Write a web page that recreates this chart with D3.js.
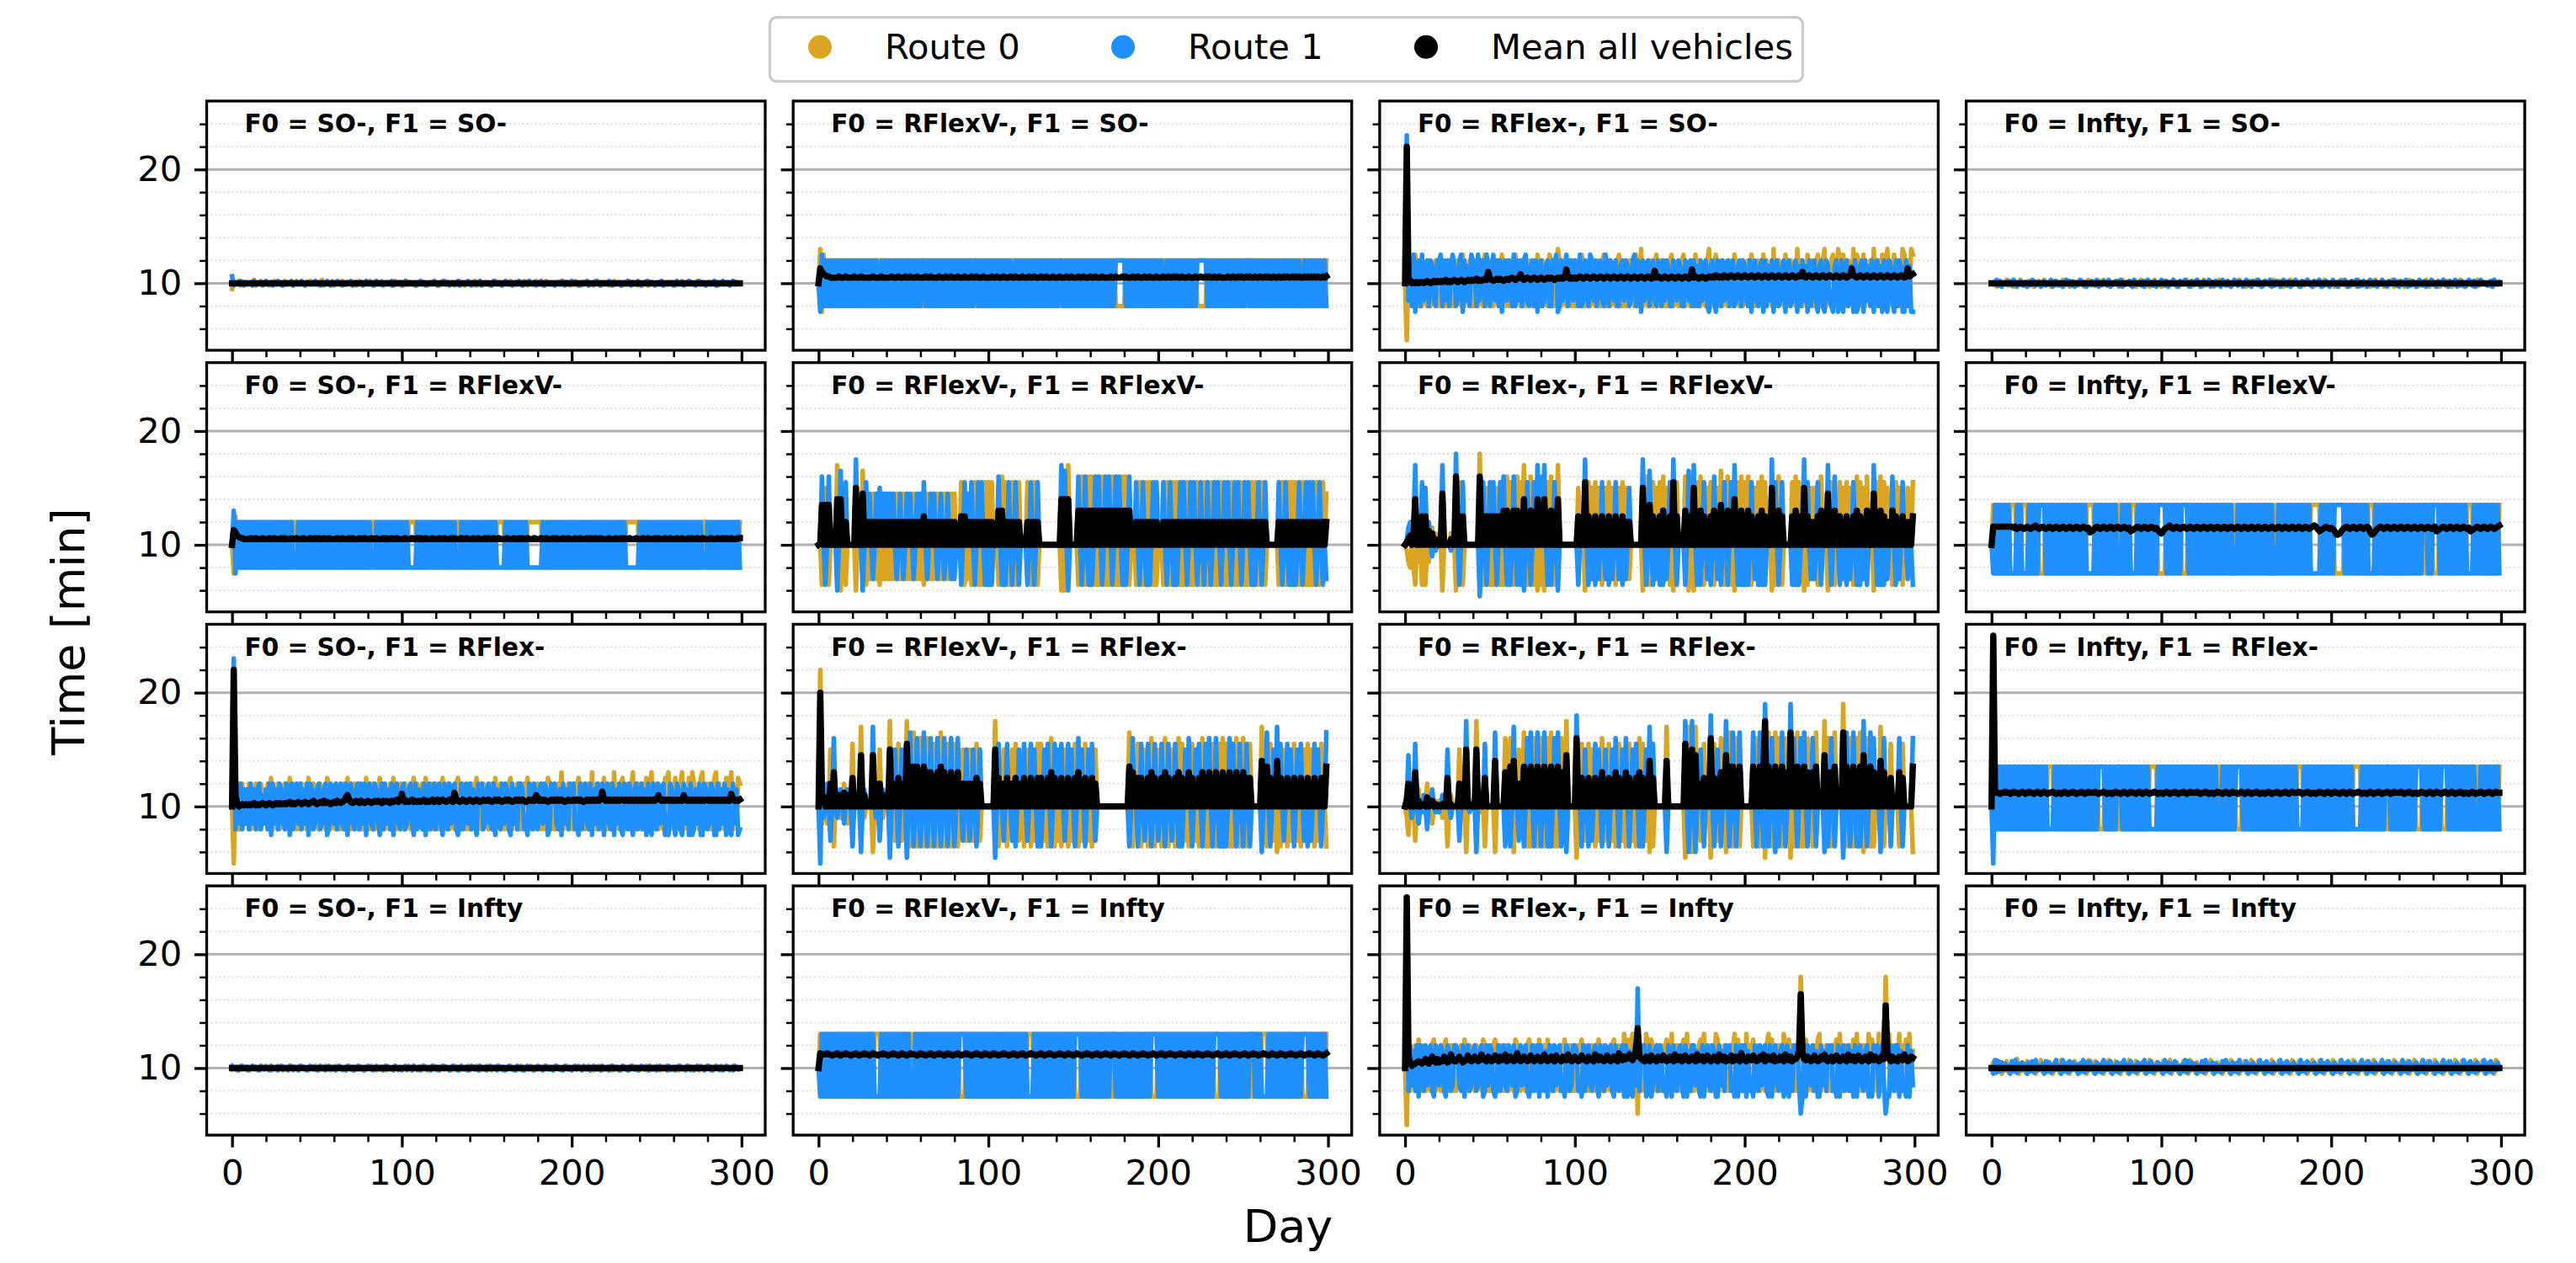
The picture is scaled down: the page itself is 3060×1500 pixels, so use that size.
<!DOCTYPE html>
<html>
<head>
<meta charset="utf-8">
<script src="https://cdn.jsdelivr.net/npm/d3@7"></script>
<style>
  body { margin: 0; background: #fff; }
  svg { font-family: "DejaVu Sans", sans-serif; }
</style>
</head>
<body>
<svg id="chart" width="3060" height="1500"></svg>
<script>
// facet labels
const F0 = ["SO-", "RFlexV-", "RFlex-", "Infty"];
const F1 = ["SO-", "RFlexV-", "RFlex-", "Infty"];
const legendLabels = ["Route 0", "Route 1", "Mean all vehicles"];
const yMajor = [10, 20];
const yMinor = [6, 8, 12, 14, 16, 18, 22, 24];
const xMajor = [0, 100, 200, 300];
const xMinor = [20, 40, 60, 80, 120, 140, 160, 180, 220, 240, 260, 280];

// daily values, one char per day (spaces ignored):
// a..z = 5.0..17.5 (step 0.5), A..Z = 9.5..12.0 (step 0.1), 0..9 = 18..27
// naming: r0_/r1_/mn_ + row (F1) + column (F0)
const flatMean = "FFFFFFFFFF FFFFFFFFFF FFFFFFFFFF FFFFFFFFFF FFFFFFFFFF FFFFFFFFFF FFFFFFFFFF FFFFFFFFFF FFFFFFFFFF FFFFFFFFFF FFFFFFFFFF FFFFFFFFFF FFFFFFFFFF FFFFFFFFFF FFFFFFFFFF FFFFFFFFFF FFFFFFFFFF FFFFFFFFFF FFFFFFFFFF FFFFFFFFFF FFFFFFFFFF FFFFFFFFFF FFFFFFFFFF FFFFFFFFFF FFFFFFFFFF FFFFFFFFFF FFFFFFFFFF FFFFFFFFFF FFFFFFFFFF FFFFFFFFFF";

const r0_00 = "AGEFHDFGEF FEGIDFEHFG EFDGFHEFGD FHEFGEDFHF GEFDFGHEFE FGEIDFGFEH DFGEFHFEGF EFGDFHEGFF GHEFDFEGHF EFGFDEHFGE FDGHEFEGFD FHGEFDFGEF GEDFHFEGFE FDGFHEFDGF EGFHDFEGFG FEDGFHEFGD FGEFHDFEGF EFHGDFEFGH FEGDFHFEGF DFGEFHEGFD FGHEFDGEFF EGFDHFEGFE FGDEFHGFEF DFGEHFEGFD GFEFHDFGEF EFGHDFEFGE FDGFEHFGEF GEFDHFGEFD FGEFHEDFGF EGFDFHEGFF";
const r1_00 = "LDGFEHFDGE FGDHEFGFDF HEFGDFEHGF DFGEFHDFGE FHEDGFEFGH EFDGFEHFDG FEHFGDFEGF HDFGEFGDFH EFGDFHFEGD FGEFHDGEFG DFHEFGFEDG FHEGDFEFGH EDFGFHEGDF GFEHDFGEFH FDGEFGHDFE GFEDHFGEFD FHGEFDFGEH FDEGFHFEGD FGHEDFGFEF DGFEHFDGEF HEFGDFEGFH DFEGFHEDFG EFHGDFEFGD FGEHFDGEFH EDFGFHEGFD FGEHDFGEFG DFHEFGDEFH GEFDFHEGFD FGEFHDGEFH EFGDFHEGFF";

const r0_01 = "kqfpgogogo gogogogogo gogogogogo gogogoogog ogogogogog ogogogogog oggogogogo gogogogogo gogogogogo goggogogog ogogogogog ogogoogogo gogogogogo gogogogogo goggogogog ogogogogog ogogogogog ogogoggggg gogogogogo gogogogogo gogoogogog ogogogogog ogoggggggo gogogogogo gogogogogo goggogogog ogogogogog ogogogogog ogogoogogo gogogogogo";
const r1_01 = "kfpgogogog ogogogogog ogogogogog ogogoggogo gogogogogo gogogogogo googogogog ogogogogog ogogogogog ogoogogogo gogogogogo gogoggogog ogogogogog ogogogogog ogoogogogo gogogogogo gogogogogo gogogooooo ogogogogog ogogogogog ogoggogogo gogogogogo gogoooooog ogogogogog ogogogogog ogoogogogo gogogogogo gogogogogo gogoggogog ogogogogog";
const mn_01 = "FSPNMLLKKK KKLKKKLKKK KLKKKLKKKK KKLKKKKLKK KKKLKKKLKK KLKKLKKKLK KKKLKKLKKK KLKKKLKKLK KKLKKKLKKK LKKLKKKLKK KKLKKLKKKL KKKLKKLKKK LKKKLKKLKK KLKKLKKKLK KKLKKKLKKL KKKLKKLKKK LKKLKKKLKK KKLKKLKKKL KLKKKLKKLK KKLKKLKKKL KKKLKKLKKL KLKKLKKKLK KKLKKLKKLK LKKLKKLKKK KLKKLKKLKL KKLKLKKLKK LKKLKLKKLK KLKKLKLKKL KLKLKKLKLK LKLKLKKLKL";

const r0_02 = "kanhogphgo gnhgoghnog hgogngohgh onhgpgnhog ghognhgpgh ohgnhogphg nghogphngo hgnohgogph gonhgpoghg qognhgohgn ghogpnghog hngohgnpgh oghngophgn ghonhgpghq gnhgohgnpg hognghopgh nghopghngo gphognhgoq hgnpghognh gohgpnhgog hnogphgnoh gpgohngqhg onhgphgonh gqhognhpgo hgnphgoqgh nophgqogph gonhqgpohg pgnhogqhgo hpgoqghnpg oghqpgohqp";
const r1_02 = "k5hogpfnog phnogonhgo opgohognpn ghopfohngp ongphoogpn gnphogofno hongpgohog ophgnogofn oghnoggonp fgohnpgooh ongpghongp ohognohgpn gonhoggnoh onghopgonf ohnognohgo ngohonggon honggonhog ogngohnogf nohfongohn ognoghnogo nhgofnohgn ofognhofno ghnofnoghn ofngohnfog nohfnogfon hgfnofgofn oghnfofgno fohngofnog nfogfonhfo gonffognff";
const mn_02 = "F4KGFGFGFG GFGHGFGHGH GHGHIGHGHI HGHIHGHIHI HIJHIHIJIP JIHIJIJIHI JIJKJIJKNJ IJKJIJKJIJ KJIJKJKJIJ KJKJKRKJKJ KJKLKJKLKJ KLKJKLKJKL KJKLKJKLKJ KLKJKLKJKL KJKLKJKQKL KJKLKJKLKJ KLKJKLKJKR KLKJKLKJKL KLKMLKLKML KLMLKLMLKL MLKLMLKLML KLMLKLMLKL MLKLMLKLML KLMLPLKLML KLMLKLMLKL MLKLMLKLML KLMSMLKLML KLMLKLMLKL MLKLMLKLML KLMLKLSLMN";

const r0_03 = "FGECHDGFEI DFHCGEFIDF GEHDFCGEHF DIFEGCFHDG EFIDGECFHE GDFHECGIFD EGFCHDIEFG DFEHGCFIDE FGDHECFGID HEFCGDIFEG CFHEDGFIEC GDFHEICGFD HEFGCIDFEH GCFDIEHFGD ECFGHDIEFG CDHFEGIDFC EHGFDCIEGF HDCFGEIDHF ECGFDHIEFC GDHEFCIGDF EHCGFDIEHC FGDEHCIFGD EFHCGDIEFG HCDFEGICFH DEGCFHIDEF GCHDFEIGCF HDEGCFIDHE FCGEHDIFCG DEHFCGIDEF GFEDHCIFEG";
const r1_03 = "FEGIDHCFGE HFDIGCEHFD GCFEIHDGFC EHDFGICEHF DGCFIEHDGC FEIHDGCFEH GDICFEHGDI CFEGHDICFE GHDCIFEGDH CFIEGDHCFE IGDHCFEIGD CHFEIGDCHF EIGCDHFEIC GDHFECIGDH FCEIGDHFCE IGDCHFEIGC DHFEICGDHF CEIGDHCFEI GDCHFEIGDC HFEICGDHFC EIGDCHFEIG CDHFEICGDH FCEIGDHCFE IGDCHFEIGD CHFEICGDHF CEIGDHCFEI GDCHFEIGDC HFEICGDHFC EIGDHCFEIG FEDGHCIFEG";

const r0_10 = "kfpgogogog ogogogogog ogogogogog ogogogooog ogogogogog ogogogogog ogogogogog ogogogogog ogooogogog ogogogogog ogogooooog ogogogogog ogogogogog ogooogogog ogogogogog ogogogoooo ogogogogog ogogoooooo ooogogogog ogogogogog ogogogogog ogogogogog ogogogogog ogoooooooo gogogogogo gogogogogo gogogogogo gogogogooo gogogogogo gogogogogo";
const r1_10 = "kqfogogogo gogogogogo gogogogogo gogogogggo gogogogogo gogogogogo gogogogogo gogogogogo gogggogogo gogogogogo gogogggggo gogogogogo gogogogogo gogggogogo gogogogogo gogogogggg gogogogogo gogogggggg gggogogogo gogogogogo gogogogogo gogogogogo gogogogogo gogggggggg ogogogogog ogogogogog ogogogogog ogogogoggg ogogogogog ogogogogog";
const mn_10 = "FSQNMLLKKK KLKKLKKKLK KKLKKLKKKL KLKKKLKKLK KKLKKKLKKL KLKKLKKLKK KKLKKLKKKL KLKKKLKKLK KKLKKLKKKL KLKKLKKLKK KKLKKKLKKL KLKKLKKKLK KKLKKLKKKL KLKKKLKKLK KKLKKLKKKL KLKKLKKLKK KKLKKKLKKL KLKKLKKKLK KKLKKLKKKL KLKKKLKKLK KKLKKLKKKL KLKKLKKLKK KKLKKKLKKL KLKKLKKKLK KKLKKLKKKL KLKKKLKKLK KKLKKLKKKL KLKKLKKLKK KKLKKKLKKL KLKKLKKKLL";

const r0_11 = "kkdkukdkkk kykckkdkkk kkckkkxkdk ektkekdkek ekekektkek tkekektkek ekdktkekek tkektkektk tkkkvkdkek dkvkdkdkvk vkvkkkdkwk vkdkvkdkvk kkkvkdkvkd kkkkkkkkkk kkkckckykk kkkdkwkdkw kwkdkdkwkd kdkwkdkdkw kwkdkkkdkv kdkvkvkdkd kkkdkvkdkv kvkdkdkvkd kdkvkdkvkd kvkdkdkvkd kdkvkdkdkv kdkdkvkvkd kvkdkkkkkk kdkvkdkvkv kvkdkvkdkd kdkvkdkvkt";
const r1_11 = "kkwkdkwkkk kckxkkvkkk kkzkkkckvk tkektkuktk tktktkektk ektktkektk tkvkektktk ektkektkek ekkkdkvktk vkdkvkvkdk dkdkkkwkdk dkvkdkvkdk kkkdkvkdkv kkkkkkkkkk kkkykxkckk kkkwkdkwkd kdkwkwkdkw kwkdkwkwkd kdkwkkkvkd kvkdkdkvkv kkkvkdkvkd kdkvkvkdkv kvkdkvkdkv kdkvkvkdkv kvkdkvkvkd kvkvkdkdkv kdkvkkkkkk kvkdkvkdkd kdkvkdkvkv kvkdkvkdke";
const mn_11 = "FGrFrFrFFF FsFsFFoFFF FFuFFFtFoF oFoFoFoFoF oFoFoFoFoF oFoFoFoFoF oFpFoFoFoF oFoFoFoFoF oFFFpFpFoF oFoFoFoFoF oFoFFFqFqF oFoFoFoFoF FFFoFoFoFo FFFFFFFFFF FFFsFsFsFF FFFqFqFqFq FqFqFqFqFq FqFqFqFqFq FqFqFFFoFo FoFoFoFoFo FFFoFoFoFo FoFoFoFoFo FoFoFoFoFo FoFoFoFoFo FoFoFoFoFo FoFoFoFoFo FoFoFFFFFF FoFoFoFoFo FoFoFoFoFo FoFoFoFoFo";

const r0_12 = "kjhgkgdkhk dkdkhknkmk kkckkkkmkk ckvkdkkkkk kkkk0kdkuk dkdkukdkdk wkvkdkwkvk ykdkwkdkck dkckvkwkdk ykkkkkkkkk kkukkkckvk ukvkukdkuk vkukdkukvk ukekkkkkkk ckwkdkvkuk vkwkukdkck vkkkkwkckk ckvkwkdkuk vkdkukxkdk wkdkckvkwk vkwkdkukvk wkvkkkckdk wkdkkkkkvk wkvkkckdku kukdkwkkkc kvkdkkvkuk vkukdkwkvk ukwkkkckvk wkvkukkdkv kukdkkukkv";
const r1_12 = "klnokoyknk vkukokikjk kkykkkkjkk 0kdkvkkkkk kkkkbkvkdk vkvkdkvkwk dkdkwkdkdk ckvkdkvkyk wkykdkdkvk ckkkkkkkkk kkdkkkzkdk ekdkekvkek dkekvkekdk ekukkkkkkk zkdkxkdkek dkdkekvkzk dkkkkdkxkk ykdkdkvkek dkwkekdkvk dkvkykdkdk dkdkvkekdk dkdkkkzkvk dkvkkkkkdk dkdkkzkvke kekvkdkkky kdkwkkdkek dkekvkdkdk ekdkkkykdk dkdkekkwkd kekvkkekkd";
const mn_12 = "FHKNFNsFPF pFpFRFPFKF FFtFFFFKFF wFpFpFFFFF FFFFwFpFpF pFpFpFpFqF qFpFqFqFpF sFpFqFpFsF qFsFpFqFpF sFFFFFFFFF FFpFFFvFpF oFpFoFpFoF pFoFpFoFpF oFoFFFFFFF uFqFrFpFoF pFqFoFpFvF pFFFFqFpFF uFpFqFpFoF pFqFoFrFpF qFpFsFpFqF pFqFpFoFpF qFpFFFuFpF qFpFFFFFpF qFpFFuFpFo FoFpFqFFFt FpFqFFpFoF pFoFpFqFpF oFqFFFtFpF qFpFoFFqFp FoFpFFoFFp";

const r0_13 = "krfrfrfrfr frrrrfrfrr rrfrfrfrff ffrfrfrfrf rfrfrfrfrf rfrfrfrrrr rfrfrfrfrf rfrfrfrfrf rfrrrrfrfr frfrfrfrff fffrfrfrfr frffffrfrf rfrfrfrfrf rfrfrfrfrf rfrfrfrfrf rfrfrfrfrf rfrfrfrfrf rfrfrfrfrf rfrfrfrfrr rrrrfrfrfr frffffffrf rfrfrfrfrf rfrrrrfrfr frfrfrfrfr frfrfrfrfr frfrfrfrfr ffffrfrfrf rfrfrfrfrf rrrrfrfrfr frfrfrfrfr";
const r1_13 = "kfrfrfrfrf rffffrfrff ffrfrfrfrr rrfrfrfrfr frfrfrfrfr frfrfrffff frfrfrfrfr frfrfffrfr frffffrfrf rfrfrfrfrr rrrfrfrfrf rfrrrrfrfr frfrfrfrfr frfrfrfrfr frfffrfrfr frfrfrfrfr frfrfrfffr frfrfrfrfr frfrfrfrff ffffrfrfrf rfrrrrrrfr frfrfrfrfr frffffrfrf rfrfrfrfrf rfrfrfrfrf rfrfrrrfrf rrrrfrfrfr frfrfrfrfr ffffrfrfrf rfrfrfrfrf";
const mn_13 = "FVVVVVVVVV VVVUVTUVUT UVUTUVWUTU VUTUVUTUVU TUVUTUVUTU VUTUVUTUQR SUVUTUVUTU VUTUVUTUVU TURSTUVUTU VUTUVUTUSQ PRTUVWUTUV UTUVUTUVUT UVUTUVUTUV UTUVUTUVUT UVUTUVUTUV UTUVUTUVUT UVUTUVUTUV UTUVUTUVUT UVUTUVUTUV WVTRSTUVUT UTROOPRTUV UTUVUTUVUT UVUQOPRTUV UTUVUTUVUT UVUTUVUTUV UTUVUTUVUT UVRSTUVUTU VUTUVUTUVU TURSTUVUTU VUTUVUTUVW";

const r0_20 = "kaogngohnh ognhohgoin hogpgnhogh noghpgohgn gohngpghon hgonhgpogh ngohgnogph gnohgogngp hgnoghnpgo gnhogphgno hgonhgnpgo hnogphgong ohgnpghogn hgopngohgn gohnpghgon hgnogphnog nghopgnhog ghonpghogn ohgnghpogh gnohqgnhog hgonpgohgn ogqhngohgp hgnogqhngo pghognqhgo ngohpgnqgh ognhgpoqgh npghoqgnhp gqohngpqgh onghpqgohn gphoqgnhpo";
const r1_20 = "k5gohognhn gohngnogmh ngofohngon hgonfognoh ognhofongh noghnofgon hognohgofn ohgnogohof nohgonhfog ohngofnohg noghnohfog nhgofnogho gnohfongoh nogfhognoh ognhfonogh nohgofnhgo hongfohngo onghfongoh gnohonfgon ohgnfohngo noghfognoh gofnhognof nohgofnhog fongohfnog hognfohfon gohnofgfon hfongfohnf ofgnhoffon ghonffognh ofngfohnfg";
const mn_20 = "F4QHFGHGHG HGHIGHGHIH GHIHGHIHIH HIHIJHIHIJ IHIJIHIJKI HIJIKIJIHI JIKJIJKNPL JIJKJIKJIJ KJIJKJKJIK JKJIKJKLJK QLJKJKLJKJ KJKLJKJKLJ KLJKLKJKLK JRLKJKLKJK LKJKLKJKLK KLKJKLKLKJ KLKLKJKLKL KLKJKLKLKP NKLKLKJKLK LKLKLKJKLK KLKLKLKJKL KLKLKLKLSL KLKLKLKLKL LKLKLKLKLK LKLKLKLKLK LPLKLKLKLK LKLKLKPLKL KLKLKLKLKL LKLKLKLKLK LKLKQLKLKL";

const r0_21 = "k4hnkhkukd knkikokhkk vkkkkykikk kkcknkukik kkzkkekvke kkzkdkxkdk wkdkwkdkvk dkxkdkvkdk vkdkkukeku kekvkekkkk kkkkzkdkku kdkkukvkek kdkukdkekv kvkekdkwkd kekdkukdke kvkdkekvke kdkukkkkkk kkkkkkkkkk kkkxkdkkvk dkukdkwkdk ukdkwkdkuk dkwkvkekdk vkekdkwkdk dkvkdkvkwk vkdkdkwkdk wkdkvkkkkk kykkdkvkek ckdkukdkek vkekdkukvk ukdkekvkkd";
const r1_21 = "kaqikokekw kiknkhknkk dkkkkcknkk kkykikeknk kkbkkukdku kkbkxkdkwk dkxkdkwkdk wkdkwkdkwk dkwkkekuke kukdkukkkk kkkkbkvkke kvkkekdkuk kvkekvkukd kdkukvkdkv kukvkekvku kdkwkukdku kvkekkkkkk kkkkkkkkkk kkkdkwkkdk vkekvkdkvk ekvkdkvkek vkdkdkukwk dkukvkdkvk wkdkwkdkdk dkwkvkdkvk dkvkdkkkkk kckkxkdkuk ykvkekvkuk dkukvkekdk ekvkukdkkx";
const mn_21 = "F2QNFNFoFq FPFPFRFPFF pFFFFtFPFF FFtFPFoFPF FFuFFoFpFo FFvFrFrFrF qFrFqFqFpF qFrFqFpFqF pFqFFoFoFo FoFpFoFFFF FFFFuFpFFo FpFFoFpFoF FpFoFpFoFp FpFoFpFqFp FoFpFoFpFo FpFqFoFpFo FpFoFFFFFF FFFFFFFFFF FFFrFqFFpF pFoFpFqFpF oFpFqFpFoF pFqFpFoFqF pFoFpFqFpF qFpFqFpFqF pFqFpFqFpF qFpFpFFFFF FsFFrFpFoF sFpFoFpFoF pFoFpFoFpF oFpFoFpFFr";

const r0_22 = "kifkmkeknk ljkokjhklk lkikkdkmkk kkukkkcklk kkzkjkkdkk kkkckkkkkw kkwkckkukk xkdkdkwkdk wkdkwkxkdk dkwkkzkkkk kbkkvkekvk ukdkekwkek vkekdkvkek dkvkekdkwk vkekckdkkk kkkkykkkkk kkkkkbkykc kykkekvkkk bkvkekwkkc kxkdkwkdkk kkkkkdkwkd kxbkxkdkxk wkdkwkkbkd kxkdkdkwkk dkxkkkkzkw kdkxkkkk1k dkwkdkwkxk ckwkdkdkkk ykdkkkvkkk kdkvkkkkkc";
const r1_22 = "kmtkikvkhk jmkgklnkjk jkmkkukikk kkekkkzkjk kkcklkkvkk kkkxkkkkkd kkdkykkekk dkwkxkdkxk dkxkdkdkwk xkdkkckkkk k0kkdkukdk ekvkukdkuk dkukwkdkuk wkdkukvkdk dkukykvkkk kkkkckkkkk kkkkkzkckz kckkukdkkk 0kdkukdkkz kdkxkdkxkk kkkkkxkdkx kd1kdkwkck dkxkdkk1kw kdkwkxkdkk wkdkkkkckd kwkdkkkkbk xkdkxkdkdk zkdkxkwkkk ckwkkkdkkk kwkdkkkkkw";
const mn_22 = "FLZFKFqFKF GHFNFGKFHF GFHFFpFHFF FFoFFFuFHF FFuFHFFpFF FFFsFFFFFq FFrFsFFoFF rFqFrFqFrF qFrFqFrFqF rFqFFtFFFF FwFFpFoFpF oFpFoFqFoF pFoFqFpFoF qFpFoFpFqF pFoFsFpFFF FFFFsFFFFF FFFFFvFtFu FtFFoFpFFF wFpFoFqFFt FrFrFqFrFF FFFFFrFqFr FrzFrFqFrF qFrFqFFxFq FrFqFrFqFF qFrFFFFtFq FqFrFFFFxF rFqFrFqFrF tFqFrFqFFF sFqFFFpFFF FqFpFFFFFr";

const r0_23 = "k7grgrgrgr grgrgrgrgr grgrgrgrgr grgrrrrgrg rgrgrgrgrg rgrgrgrgrg rgrggggrgr grgrgrgrgr grgrgrgrgr grgrrrrrgr grgrgrgrgr grgrgrgrgr grgrgrgrgr grgrgrgrgr grgrggggrg rgrgrgrgrg rgrgrgrgrg rgrgrgrgrg rrrrgrgrgr grgrgrgrgr grgrgrgrgr grgrrrrrgr grgrgrgrgr grgrgrgrgr grgrgrgrgr ggggrgrgrg rgrgrggggr grgrgrgrgr grgrgrgrgr grgrgrgrgr";
const r1_23 = "kargrgrgrg rgrgrgrgrg rgrgrgrgrg rgrggggrgr grgrgrgrgr grgrgrgrgr grgrrrrgrg rgrgrrrgrg rgrgrgrgrg rgrgggggrg rgrgrgrgrg rgrgrgrgrg rgrgrgrgrg rgrgggrgrg rgrgrrrrgr grgrgrgrgr grgrgrgrgr grgrgrgrgr ggggrgrgrg rgrgrgrgrg rgrgrgrgrg rgrgggggrg rgrgrgrgrg rgrrrgrgrg rgrgrgrgrg rrrrgrgrgr grgrgrrrrg rgrgrgrgrg rgrgrgggrg rgrgrgrgrg";
const mn_23 = "F7TRRQRRSR RQRSRRQRSR QRSRRQRSRQ RSRQRRSRQR RQRSRQRRSR QRRSRQRSRR RSRQRRSRQR RQRSRRQRSR QRSRRQRSRQ RSRQRRSRQR RQRSRQRRSR QRRSRQRSRR RSRQRRSRQR RQRSRRQRSR QRSRRQRSRQ RSRQRRSRQR RQRSRQRRSR QRRSRQRSRR RSRQRRSRQR RQRSRRQRSR QRSRRQRSRQ RSRQRRSRQR RQRSRQRRSR QRRSRQRSRR RSRQRRSRQR RQRSRRQRSR QRSRRQRSRQ RSRQRRSRQR RQRSRQRRSR QRRSRQRSRR";

const r0_30 = "EFGDFHEFGD FEHGFDFEGF HEFDGFEHFG DFEGFHDFEG FHGEFDFGEH FDGEFHFEDG FHEGFDFEGH FDGFEHFDGE FGHFEDFGEF HDGFEFHGDF EGFDHFEGFD GFHEFDGFEH FDGEFHGEFD FHEGDFEFGH DFGEHFDGEF HFEDGFHEFG DFEGHFDEGF HDFGEFHDGF EFGDHFEGFD HGFEDFGHEF DGFEHFDGEF HGFDEFHGDF EFGHDFEGFD HFEGDFHEFG DFGEHFDEGF HFDGEFHGDF EGFDHFEGFH DFGEFDHFGE FHDGEFGDHF EGFDFHEGFF";
const r1_30 = "HFEGDFHEFG DFHEGFDHFE GFDHEFGDFH EGFDHFEGFD HFGEDFHGEF DFHGEDFHFE GDFHGEFDHF EGDFHEGFDF HGEDFHFEGD FHGEFDHFEG DFHEGFDHFE GDFHGEFDHF EGDFHEGFDF HGEDFHFEGD FHGEFDHFEG DFHEGFDHFE GDFHGEFDHF EGDFHEGFDF HGEDFHFEGD FHGEFDHFEG DFHEGFDHFE GDFHGEFDHF EGDFHEGFDF HGEDFHFEGD FHGEFDHFEG DFHEGFDHFE GDFHGEFDHF EGDFHEGFDF HGEDFHFEGD FHGEFDHFEF";

const r0_31 = "kqfqfqfqfq fqfqfqfqfq fqfqfqfqfq fqfqqqqfqf qfqfqfqfqf qfqfqfqfqf qfqfqfqfqf qfqfqfqfqf qfqffffqfq fqfqfqfqfq fqfqfqfqfq fqfqfqfqfq fqfqqqqfqf qfqfqfqfqf qfqfqfqfqf qffffqfqfq fqfqfqfqfq fqfqfqfqfq fqfqfqfqfq fqfqfqffff qfqfqfqfqf qfqfqfqfqf qfqfqfqfqf qfqffffqfq fqfqfqfqfq fqfqfqfqfq fqqqqfqfqf qfqfqfqfqf qfqfqffffq fqfqfqfqfq";
const r1_31 = "kfqfqfqfqf qfqfqfqfqf qfqfqfqfqf qfqffffqfq fqfqfqfqfq fqfqfffqfq fqfqfqfqfq fqfqfqfqfq fqfqqqqfqf qfqfqfqfqf qfqfqfqfqf qfqfqfqfqf qfqffffqfq fqfqfqfqfq fqfqfqfqfq fqqqqfqfqf qfqfqfqfqf qfqqqfqfqf qfqfqfqfqf qfqfqfqqqq fqfqfqfqfq fqfqfqfqfq fqfqfqfqfq fqfqqqqfqf qfqfqfqfqf qfqfqqqfqf qffffqfqfq fqfqfqfqfq fqfqfqqqqf qfqfqfqfqf";
const mn_31 = "FSRRRSRRQR RSRQRRSRRQ RRSRQRRSRR QRSRRQRRSR RQRRSRRQRS RRQRSRRRQR SRRQRRSRQR RSRRQRSRRQ RRSRQRRSRR QRRSRRQRSR RQRSRRQRRS RRQRRSRQRR SRQRRSRRQR RSRQRRSRRQ RRSRRQRSRR QRSRRQRRSR RQRRSRQRRS RRQRSRRQRR SRRQRSRRQR RSRRQRRSRQ RRSRQRRSRR QRRSRRQRSR RQRSRRQRRS RRQRRSRQRR SRQRRSRRQR RSRQRRSRRQ RRSRRQRSRR QRSRRQRRSR RQRRSRQRRS RRQRSRRQRS";

const r0_32 = "kaognhogpg hognhgopgh nghopghong ghnogphgon hgonhgpogn ghopngohgn oghngpohgn hgopngohgp gnohpghogn hgonpghong ghonpgohgn ohgnpghogn hgopgnohgq gphoqgncog hgqogpnhgo ghonpghqgn ohgnpgqhog gnhopgqhgn oghqpgnhog hgonqgphgo gqhonpghog nhgoqgphgn ohgqngphog hgn0qgpghn gohpqgnhog hgonpgqhgo ngohpgqhgn ohgqnpghgq hgn0pqghog gqhonpgqhn";
const r1_32 = "k7gohngofo ngohnogfon hongfongho onhgofnogh noghnofgoh ongfhognoh gonhofgnoh nogfhognof ohgnfongoh noghfongho onghfognoh gnohfongoh nogfohgnof ofngfohygo nofgofhnog onghfonfoh gnohfofngo ohngfofnoh gonffohngo noghfofnog ofnghfongo hnogfofnoh gnofhofngo nohcfofonh ognffohngo noghfofnog hognfofnoh gnofhfonof nohcffongo ofnghfofnh";
const mn_32 = "F7QKHIJKLK JLNKJMPLKN KMLPNKLRNL LNPMKLNQML MPNLMRNMLP NLMQNLPMNR LMPNLMSNLM PNLMQNLNPM LNRMLNPMLQ NMLPNMRNLM PNLMQNMLPN MLRNMPNLMQ NLMPNLSNMP NPRNMPVrPN MLPNLQNMLP NMQNLMPNLR MNPLMQNLMP NLRMNPLMQN LMPNLRNMPL NMQLMPNLSN MLPNMQNLMP NRLMPNMQLN MPNLRNMPLN NPVxTNMPNL MQNLMPNRML NPLMQNLMPN LRNMPLNQML NPMLRNMPNL MQNvUNLPMN LPNMRNLMPO";

const r0_33 = "FKBMCJAHDL BIEKCNAGDJ BLCIEKAHDM CJBLDIAKEH BMCJDKAIEL CHBKDJAMEI BLCHDKAJEM BICLDHAKEJ BMCIDLAHEK BJCMDIAKEH BLCJDMAIEK BHCLDJAMEI BKCHDLAJEM BICKDHALEJ BMCIDKAHEL BJCMDIALEH BKCJDMAIEL BHCKDJAMEI BLCHDKAJEM BICLDHAKEJ BMCIDLAHEK BJCMDIAKEH BLCJDMAIEK BHCLDJAMEI BKCHDLAJEM BICKDHALEJ BMCIDKAHEL BJCMDIALEH BKCJDMAIEL BHCKDJAMEF";
const r1_33 = "FAMBLCKDJE HALCMBJDKE IAKCLBMDHE JALCKBIDME HAMCJBLDKE IAJCMBKDLE HAKCIBMDJE LAHCKBJDME IALCHBKDJE MAJCLBHDKE IAMCKBJDLE HAICMBLDKE JAHCLBMDIE KAJCHBLDME IAKCJBMDHE LAICKBHDME JALCIBKDHE MAJCLBIDKE HAMCJBLDIE KAHCMBJDLE IAKCHBMDJE LAICKBHDME JALCIBKDHE MAJCLBIDKE HAMCJBLDIE KAHCMBJDLE IAKCHBMDJE LAICKBHDME JALCIBKDHE MAJCLBIDKF";

const route0 = [[r0_00, r0_01, r0_02, r0_03], [r0_10, r0_11, r0_12, r0_13], [r0_20, r0_21, r0_22, r0_23], [r0_30, r0_31, r0_32, r0_33]];
const route1 = [[r1_00, r1_01, r1_02, r1_03], [r1_10, r1_11, r1_12, r1_13], [r1_20, r1_21, r1_22, r1_23], [r1_30, r1_31, r1_32, r1_33]];
const means  = [[flatMean, mn_01, mn_02, flatMean], [mn_10, mn_11, mn_12, mn_13], [mn_20, mn_21, mn_22, mn_23], [flatMean, mn_31, mn_32, flatMean]];

function decode(s) {
  return Array.from(s.replace(/\s/g, ""), ch => {
    const c = ch.charCodeAt(0);
    if (c >= 97) return 5 + 0.5 * (c - 97);
    if (c >= 65) return 9.5 + 0.1 * (c - 65);
    return 18 + (c - 48);
  });
}

const colors = ["#DAA520", "#1E90FF", "#000000"];
const widths = [5.5, 5.5, 7.5];

// layout (px, 300 dpi figure)
const left0 = 245.5, top0 = 120, pw = 663.5, ph = 296, dx = 696.7, dy = 310.7;
const tickFont = 41.7;

const svg = d3.select("#chart");
svg.append("rect").attr("width", 3060).attr("height", 1500).attr("fill", "#fff");

const x = d3.scaleLinear().domain([-14.95, 313.95]).range([0, pw]);
const y = d3.scaleLinear().domain([4.11, 26.01]).range([ph, 0]);
const line = d3.line().x((d, i) => x(i)).y(d => y(d));

function styleAxis(a, w) {
  a.select(".domain").remove();
  a.selectAll(".tick line").attr("stroke", "#000").attr("stroke-width", w);
  a.attr("font-size", tickFont).attr("font-family", "DejaVu Sans, sans-serif");
  a.selectAll(".tick text").attr("fill", "#000");
}

for (let r = 0; r < 4; r++) {
  for (let c = 0; c < 4; c++) {
    const g = svg.append("g").attr("transform", `translate(${left0 + c * dx},${top0 + r * dy})`);
    const clipId = `clip-${r}-${c}`;
    g.append("clipPath").attr("id", clipId).append("rect").attr("width", pw).attr("height", ph);

    // grid
    g.selectAll("line.gminor").data(yMinor).join("line").attr("class", "gminor")
      .attr("x1", 0).attr("x2", pw).attr("y1", d => y(d)).attr("y2", d => y(d))
      .attr("stroke", "#dcdcdc").attr("stroke-width", 2).attr("stroke-dasharray", "2,3");
    g.selectAll("line.gmajor").data(yMajor).join("line").attr("class", "gmajor")
      .attr("x1", 0).attr("x2", pw).attr("y1", d => y(d)).attr("y2", d => y(d))
      .attr("stroke", "#b0b0b0").attr("stroke-width", 3);

    // series
    const plot = g.append("g").attr("clip-path", `url(#${clipId})`);
    [route0[r][c], route1[r][c], means[r][c]].forEach((s, k) => {
      plot.append("path").datum(decode(s)).attr("d", line)
        .attr("fill", "none").attr("stroke", colors[k]).attr("stroke-width", widths[k])
        .attr("stroke-linejoin", "round").attr("stroke-linecap", "square");
    });

    // frame
    g.append("rect").attr("width", pw).attr("height", ph)
      .attr("fill", "none").attr("stroke", "#000").attr("stroke-width", 3.3);

    // axes
    g.append("g").call(d3.axisLeft(y).tickValues(yMinor).tickSize(8.3).tickFormat(() => ""))
      .call(a => styleAxis(a, 2.5));
    g.append("g").call(d3.axisLeft(y).tickValues(yMajor).tickSize(14.6).tickPadding(14.6)
      .tickFormat(c === 0 ? d3.format("d") : () => ""))
      .call(a => styleAxis(a, 3.3));
    g.append("g").attr("transform", `translate(0,${ph})`)
      .call(d3.axisBottom(x).tickValues(xMinor).tickSize(8.3).tickFormat(() => ""))
      .call(a => styleAxis(a, 2.5));
    g.append("g").attr("transform", `translate(0,${ph})`)
      .call(d3.axisBottom(x).tickValues(xMajor).tickSize(14.6).tickPadding(14.6)
        .tickFormat(r === 3 ? d3.format("d") : () => ""))
      .call(a => styleAxis(a, 3.3));

    // panel title
    g.append("text").attr("x", 45).attr("y", 37.3)
      .attr("font-size", 29.5).attr("font-weight", "bold")
      .text(`F0 = ${F0[c]}, F1 = ${F1[r]}`);
  }
}

// axis labels
svg.append("text").attr("transform", "translate(100,750) rotate(-90)")
  .attr("text-anchor", "middle").attr("font-size", 54).text("Time [min]");
svg.append("text").attr("x", 1530).attr("y", 1475)
  .attr("text-anchor", "middle").attr("font-size", 54).text("Day");

// legend
const lg = svg.append("g");
lg.append("rect").attr("x", 914.5).attr("y", 20.7).attr("width", 1227).attr("height", 76).attr("rx", 8)
  .attr("fill", "#fff").attr("stroke", "#cccccc").attr("stroke-width", 3.3);
const legendX = [974, 1334, 1694];
legendLabels.forEach((t, i) => {
  lg.append("circle").attr("cx", legendX[i]).attr("cy", 55.8).attr("r", 14).attr("fill", colors[i]);
  lg.append("text").attr("x", legendX[i] + 77).attr("y", 70).attr("font-size", tickFont).text(t);
});
</script>
</body>
</html>
